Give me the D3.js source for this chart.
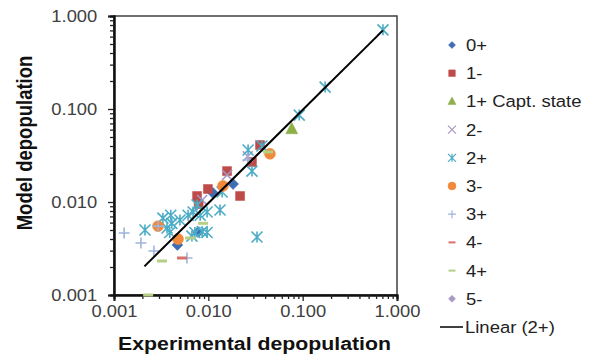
<!DOCTYPE html>
<html>
<head>
<meta charset="utf-8">
<script src="https://cdn.jsdelivr.net/npm/d3@7"></script>
<style>
  body { margin: 0; background: #fff; }
  svg { font-family: "Liberation Sans", Arial, sans-serif; }
</style>
</head>
<body>
<div id="chart"></div>
<script>
/* Model vs experimental depopulation, log-log scatter */

const width = 594, height = 360,
    margin = ({ top: 16, right: 197, bottom: 65, left: 114 });

// data: [experimental, model]
const s0p = [[0.0183, 0.0156], [0.0112, 0.0125], [0.0078, 0.00475], [0.0047, 0.00345]];
const s1m = [[0.0353, 0.041], [0.029, 0.0269], [0.0158, 0.0215], [0.0099, 0.0138], [0.0217, 0.0116],
             [0.0076, 0.0116], [0.0079, 0.0095]];
const s1pCapt = [[0.0766, 0.061]];
const s2m = [[0.0158, 0.0195], [0.0086, 0.0105], [0.0262, 0.031]];
const s2p = [[0.71, 0.71], [0.173, 0.172], [0.092, 0.086], [0.037, 0.040], [0.0264, 0.0362],
             [0.029, 0.0215], [0.0328, 0.0042], [0.0133, 0.0082], [0.014, 0.0128], [0.0097, 0.0078],
             [0.0076, 0.0093], [0.0069, 0.0078], [0.0061, 0.0072], [0.0082, 0.0072], [0.0050, 0.0064],
             [0.0041, 0.0059], [0.0040, 0.0072], [0.0033, 0.0067], [0.00365, 0.00525], [0.0039, 0.0047],
             [0.00213, 0.0050], [0.0097, 0.0047], [0.0072, 0.0047], [0.0067, 0.0043], [0.0086, 0.0048]];
const s3m = [[0.00293, 0.0055], [0.00477, 0.0040], [0.0143, 0.0149], [0.045, 0.033]];
const s3p = [[0.0264, 0.0283], [0.00128, 0.00464], [0.00193, 0.00362], [0.00265, 0.00297],
             [0.00594, 0.0025], [0.00293, 0.0055]];
const s4m = [[0.00526, 0.0025]];
const s4p = [[0.0023, 0.001], [0.00323, 0.00232], [0.0064, 0.0041], [0.0088, 0.0059], [0.043, 0.0345]];
const s5m = [];
const trend2p = [[0.0021, 0.00203], [0.71, 0.70]];

const seriesNames = ["0+", "1-", "1+ Capt. state", "2-", "2+", "3-", "3+", "4-", "4+", "5-"];
const tickLabels = [0.001, 0.01, 0.1, 1];

const series = [
  { name: seriesNames[0], data: s0p, shape: "diamond", color: "#3F6DB3" },
  { name: seriesNames[1], data: s1m, shape: "square", color: "#BE4B48" },
  { name: seriesNames[2], data: s1pCapt, shape: "triangle", color: "#8DB04A" },
  { name: seriesNames[3], data: s2m, shape: "x", color: "#A897C6" },
  { name: seriesNames[4], data: s2p, shape: "asterisk", color: "#4BACC6" },
  { name: seriesNames[5], data: s3m, shape: "circle", color: "#F08A3A" },
  { name: seriesNames[6], data: s3p, shape: "plus", color: "#9FB4DB" },
  { name: seriesNames[7], data: s4m, shape: "dash", color: "#D9706E" },
  { name: seriesNames[8], data: s4p, shape: "dash", color: "#B5CF84" },
  { name: seriesNames[9], data: s5m, shape: "diamond", color: "#A899C8" }
];

// marker path, r = half size
function markerPath(shape, r) {
  switch (shape) {
    case "diamond": return `M0,${-r}L${r},0L0,${r}L${-r},0Z`;
    case "square": return `M${-r},${-r}H${r}V${r}H${-r}Z`;
    case "triangle": return `M0,${-r * 1.1}L${r},${r * 0.8}L${-r},${r * 0.8}Z`;
    case "circle": return d3.arc()({ innerRadius: 0, outerRadius: r, startAngle: 0, endAngle: 2 * Math.PI });
    case "x": return `M${-r},${-r}L${r},${r}M${-r},${r}L${r},${-r}`;
    case "asterisk": return `M${-r},${-r}L${r},${r}M${-r},${r}L${r},${-r}M0,${-r}V${r}`;
    case "plus": return `M${-r},0H${r}M0,${-r}V${r}`;
    case "dash": return `M${-r},0H${r}`;
  }
}
const filled = s => ["diamond", "square", "triangle", "circle"].includes(s);
const plotSize = { diamond: 5.5, square: 4.5, triangle: 6, circle: 5.5, x: 5, asterisk: 5.5, plus: 5.5, dash: 5 };
const legendSize = { diamond: 3.5, square: 3.3, triangle: 4, circle: 4, x: 4, asterisk: 4, plus: 4, dash: 3.5 };

const svg = d3.select("#chart")
  .append("svg")
  .attr("width", width)
  .attr("height", height);

let x = d3.scaleLog()
  .domain([0.001, 1])
  .range([margin.left, width - margin.right]);

let y = d3.scaleLog()
  .domain([0.001, 1])
  .range([height - margin.bottom, margin.top]);

// all the 2..9 ticks of each decade
let minorTicks = [];
for (let p = -3; p < 0; p++) {
  for (let k = 2; k <= 9; k++) minorTicks.push(k * Math.pow(10, p));
}

// plot frame
svg.append("rect")
  .attr("x", x(0.001))
  .attr("y", y(1))
  .attr("width", x(1) - x(0.001))
  .attr("height", y(0.001) - y(1))
  .attr("fill", "none")
  .attr("stroke", "#404040")
  .attr("stroke-width", 1.5);

const fmt = d3.format(".3f");

svg.append("g")
  .attr("transform", `translate(0,${y(0.001)})`)
  .call(d3.axisBottom(x).tickValues(tickLabels).tickFormat(fmt).tickSize(6).tickPadding(4));
svg.append("g")
  .attr("transform", `translate(0,${y(0.001)})`)
  .call(d3.axisBottom(x).tickValues(minorTicks).tickFormat("").tickSize(4));

svg.append("g")
  .attr("class", "y-axis")
  .attr("transform", `translate(${x(0.001)},0)`)
  .call(d3.axisLeft(y).tickValues(tickLabels).tickFormat(fmt).tickSize(6).tickPadding(9.5));
svg.append("g")
  .attr("transform", `translate(${x(0.001)},0)`)
  .call(d3.axisLeft(y).tickValues(minorTicks).tickFormat("").tickSize(4));

svg.selectAll(".domain").attr("stroke", "#111").attr("stroke-width", 2);
svg.selectAll(".tick line").attr("stroke", "#222").attr("stroke-width", 1.3);
svg.selectAll(".tick text")
  .attr("font-family", "Liberation Sans, Arial, sans-serif")
  .attr("font-size", 17)
  .attr("fill", "#404040")
  .attr("transform", "scale(1.08,1)");

// axis titles (the source picture is a little wider than tall)
svg.append("text")
  .attr("transform", `translate(${(x(0.001) + x(1)) / 2 - 1},350) scale(1.15,1)`)
  .attr("text-anchor", "middle")
  .attr("font-size", 18.5)
  .attr("font-weight", "bold")
  .attr("fill", "#111")
  .text("Experimental depopulation");

svg.append("text")
  .attr("transform", `translate(32,143) scale(1.15,1) rotate(-90)`)
  .attr("text-anchor", "middle")
  .attr("font-size", 18.5)
  .attr("font-weight", "bold")
  .attr("fill", "#111")
  .text("Model depopulation");

// markers
for (let s of series) {
  svg.append("g")
    .selectAll("path")
    .data(s.data)
    .join("path")
    .attr("transform", d => `translate(${x(d[0])},${y(d[1])})`)
    .attr("d", markerPath(s.shape, plotSize[s.shape]))
    .attr("fill", filled(s.shape) ? s.color : "none")
    .attr("stroke", s.color)
    .attr("stroke-width", s.shape === "dash" ? 3 : filled(s.shape) ? 0.5 : 1.6);
}

// linear trendline for 2+
let line = d3.line()
  .x(d => x(d[0]))
  .y(d => y(d[1]));

svg.append("path")
  .datum(trend2p)
  .attr("d", line)
  .attr("fill", "none")
  .attr("stroke", "#000")
  .attr("stroke-width", 2);

// legend
const legX = 452, legY = 45, legStep = 28.2;
let legend = svg.append("g");
series.forEach((s, i) => {
  let g = legend.append("g").attr("transform", `translate(${legX},${legY + i * legStep})`);
  g.append("path")
    .attr("d", markerPath(s.shape, legendSize[s.shape]))
    .attr("fill", filled(s.shape) ? s.color : "none")
    .attr("stroke", s.color)
    .attr("stroke-width", s.shape === "dash" ? 2 : filled(s.shape) ? 0.5 : 1.2);
  g.append("text")
    .attr("transform", "translate(14,0) scale(1.1,1)")
    .attr("dy", "0.36em")
    .attr("font-size", 16.8)
    .attr("fill", "#222")
    .text(s.name);
});
let lg = legend.append("g").attr("transform", `translate(${legX},${legY + 10 * legStep})`);
lg.append("line")
  .attr("x1", -12).attr("x2", 11)
  .attr("stroke", "#000").attr("stroke-width", 1.5);
lg.append("text")
  .attr("transform", "translate(13,0) scale(1.1,1)")
  .attr("dy", "0.36em")
  .attr("font-size", 16.8)
  .attr("fill", "#222")
  .text("Linear (2+)");
</script>
</body>
</html>
